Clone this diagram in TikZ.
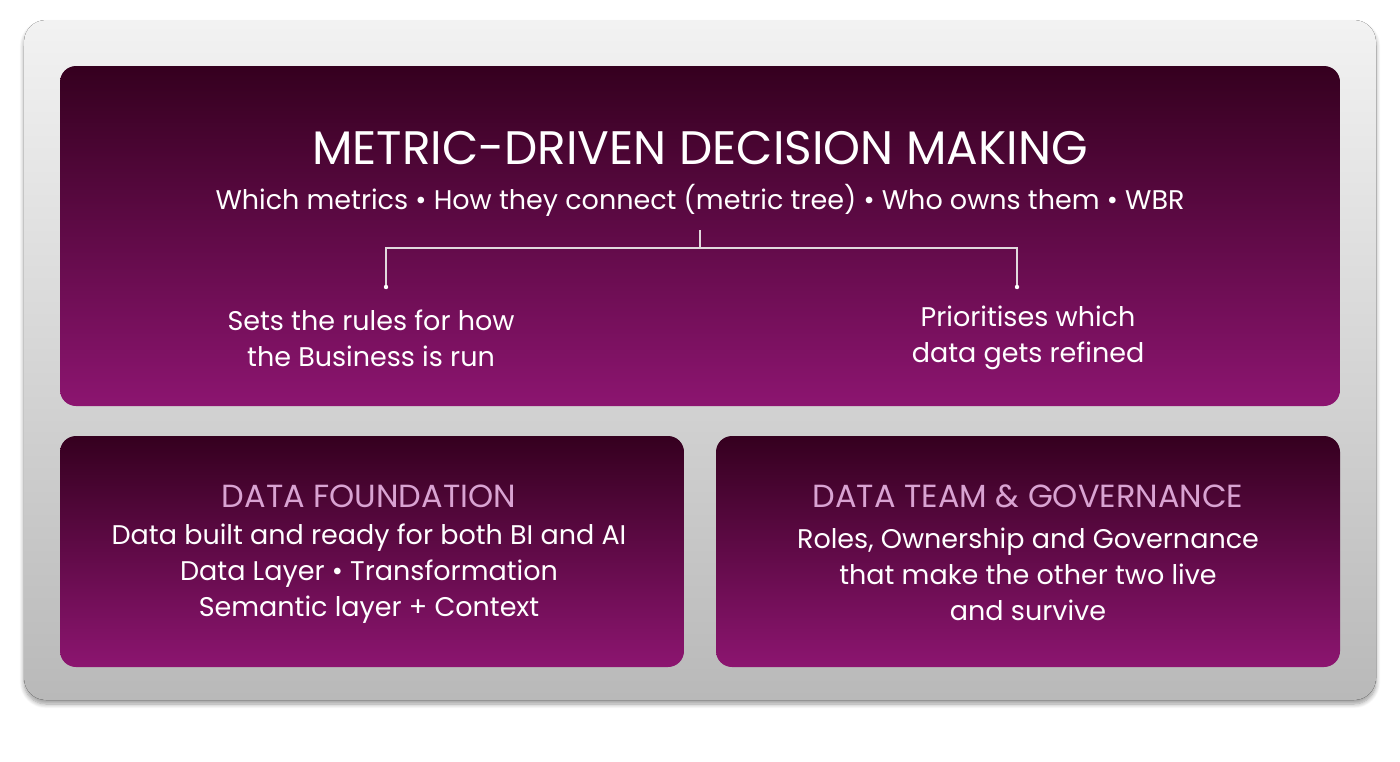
\documentclass[tikz,border=0pt]{standalone}
\usepackage{fontspec}
\setmainfont{Poppins}
\usetikzlibrary{shadows.blur}
\definecolor{dtop}{HTML}{35001F}
\definecolor{dbot}{HTML}{8C1570}
\definecolor{hdr}{HTML}{D9A3D2}
\begin{document}
\begin{tikzpicture}[x=0.5pt,y=-0.5pt,
  panel/.style={rounded corners=8pt,top color=dtop,bottom color=dbot,draw=none},
  wt/.style={text=white,align=center,font=\fontsize{13.5}{18}\selectfont},
  hd/.style={text=hdr,font=\fontsize{16}{18}\selectfont}]
\useasboundingbox (0,0) rectangle (1400,761);
\fill[rounded corners=11pt,top color=gray!10,bottom color=gray!55,blur shadow={shadow blur steps=8,shadow xshift=0pt,shadow yshift=-2pt}] (24,20) rectangle (1376,700);
\path[panel] (60,66) rectangle (1340,406);
\path[panel] (60,436) rectangle (684,667);
\path[panel] (716,436) rectangle (1340,667);
\node[text=white,font=\fontsize{23.5}{26}\selectfont] (t) at (700,148) {METRIC-DRIVEN DECISION MAKING};
\node[wt] (s) at (700,200) {Which metrics • How they connect (metric tree) • Who owns them • WBR};
\coordinate (c0) at (700,230); \coordinate (cm) at (700,248);
\coordinate (l) at (386,287); \coordinate (r) at (1017,287);
\draw[white!85!dtop,line width=0.6pt] (c0) -- (cm) (l) |- (cm) -| (r);
\fill[white] (l) circle (2.2) (r) circle (2.2);
\node[wt] (a) at (371,338) {Sets the rules for how\\the Business is run};
\node[wt] (b) at (1028,338) {Prioritises which\\data gets refined};
\node[hd] (h1) at (369,496) {DATA FOUNDATION};
\node[wt] (d1) at (369,574) {Data built and ready for both BI and AI\\Data Layer • Transformation\\Semantic layer + Context};
\node[hd] (h2) at (1028,496) {DATA TEAM \& GOVERNANCE};
\node[wt] (d2) at (1028,574) {Roles, Ownership and Governance\\that make the other two live\\and survive};
\end{tikzpicture}
\end{document}
